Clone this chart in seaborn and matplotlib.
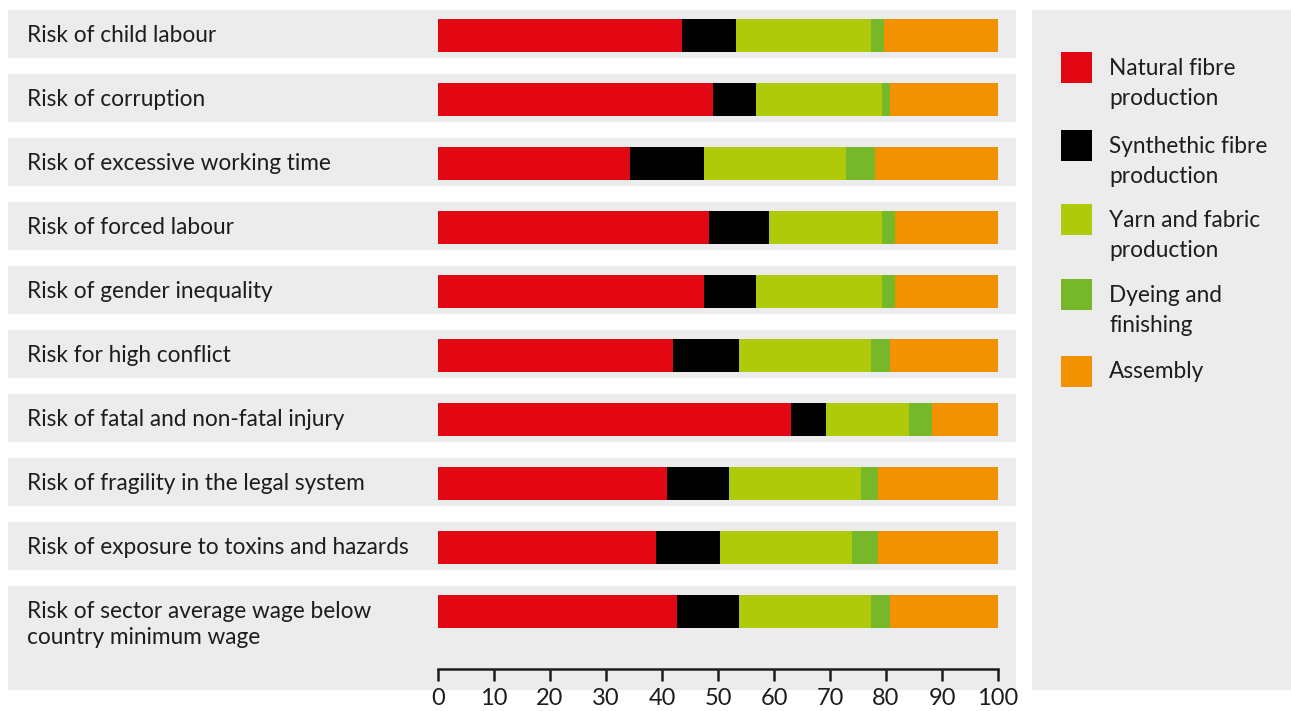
import matplotlib
matplotlib.use('Agg')
import matplotlib.pyplot as plt
import seaborn as sns
import numpy as np
import pandas as pd

categories = [
    'Risk of child labour',
    'Risk of corruption',
    'Risk of excessive working time',
    'Risk of forced labour',
    'Risk of gender inequality',
    'Risk for high conflict',
    'Risk of fatal and non-fatal injury',
    'Risk of fragility in the legal system',
    'Risk of exposure to toxins and hazards',
    'Risk of sector average wage below\ncountry minimum wage',
]

stages = ['Natural fibre\nproduction', 'Synthethic fibre\nproduction',
          'Yarn and fabric\nproduction', 'Dyeing and\nfinishing', 'Assembly']
colors = ['#E30613', '#000000', '#AFCA0B', '#76B82A', '#F39200']

natural = [43.6, 49.1, 34.3, 48.4, 47.5, 42.0, 63.1, 40.9, 39.0, 42.7]
synthetic = [9.6, 7.7, 13.2, 10.7, 9.3, 11.8, 6.2, 11.1, 11.4, 11.1]
yarn = [24.2, 22.5, 25.4, 20.2, 22.5, 23.6, 14.8, 23.5, 23.6, 23.6]
dyeing = [2.3, 1.4, 5.2, 2.3, 2.3, 3.3, 4.1, 3.1, 4.6, 3.3]
assembly = [20.3, 19.3, 21.9, 18.4, 18.4, 19.3, 11.8, 21.4, 21.4, 19.3]

xticks = list(range(0, 101, 10))

df = pd.DataFrame({'risk': categories, 'natural': natural, 'synthetic': synthetic,
                   'yarn': yarn, 'dyeing': dyeing, 'assembly': assembly})
cols = ['natural', 'synthetic', 'yarn', 'dyeing', 'assembly']
cum = df[cols].cumsum(axis=1)

sns.set_style('white')
plt.rcParams['font.family'] = ['Lato', 'DejaVu Sans']
txt_color = '#1d1d1b'
band_color = '#ECECEC'
fs = 16.3

W, H = 1291, 711
fig = plt.figure(figsize=(W / 100, H / 100), dpi=100)

# main axes: pixel 8..1016 horizontally, 10..690 vertically
ax = fig.add_axes([8 / W, 1 - 690 / H, (1016 - 8) / W, (690 - 10) / H])
px = 5.6  # pixels per unit
ax_x0 = (8 - 438) / px
ax_x1 = (1016 - 438) / px
y_top = (10 - 35) / 64
y_bot = (690 - 35) / 64

# grey bands behind every row
for i in range(len(categories)):
    lo = i + (10 - 35) / 64
    hi = i + (58 - 35) / 64 if i < len(categories) - 1 else y_bot
    ax.axhspan(lo, hi, color=band_color, lw=0, zorder=0)

# stacked bars, drawn from the largest cumulative sum down
for j in range(len(cols) - 1, -1, -1):
    sns.barplot(x=cum[cols[j]], y=df['risk'], orient='h', color=colors[j],
                saturation=1, width=33 / 64, linewidth=0, errorbar=None,
                ax=ax, zorder=2)

ax.set_xlim(ax_x0, ax_x1)
ax.set_ylim(y_bot, y_top)
ax.set_yticks([])
ax.set_xlabel('')
ax.set_ylabel('')
ax.set_facecolor('none')
for s in ['top', 'right', 'left']:
    ax.spines[s].set_visible(False)
ax.spines['bottom'].set_position(('data', (669 - 35) / 64))
ax.spines['bottom'].set_bounds(0, 100)
ax.spines['bottom'].set_linewidth(1.8)
ax.spines['bottom'].set_color(txt_color)
ax.spines['bottom'].set_zorder(3)
ax.set_xticks(xticks)
ax.set_xticklabels([str(t) for t in xticks])
ax.tick_params(axis='x', bottom=True, direction='out', length=8.5, width=1.8,
               color=txt_color, labelsize=17, labelcolor=txt_color, pad=5)

# row labels
lab_x = (27 - 438) / px
for i, c in enumerate(categories):
    if '\n' in c:
        ax.text(lab_x, (624.5 - 35) / 64, c, ha='left', va='center', fontsize=fs,
                color=txt_color, linespacing=1.32, zorder=3)
    else:
        ax.text(lab_x, i + 0.01, c, ha='left', va='center', fontsize=fs,
                color=txt_color, zorder=3)

# legend panel
lax = fig.add_axes([1032 / W, 1 - 690 / H, (W - 1032) / W, (690 - 10) / H])
lax.set_facecolor(band_color)
lax.set_xlim(1032, W)
lax.set_ylim(690, 10)
lax.set_xticks([])
lax.set_yticks([])
for s in lax.spines.values():
    s.set_visible(False)
centers = [67, 145, 219, 294, 371]
for name, col, yc in zip(stages, colors, centers):
    lax.add_patch(plt.Rectangle((1061, yc - 15.5), 31, 31, color=col, lw=0))
    yt = yc + 15.5 if '\n' in name else yc
    lax.text(1109, yt + 1, name, ha='left', va='center', fontsize=fs,
             color=txt_color, linespacing=1.52)

fig.savefig('out.png', dpi=100, facecolor='white')
